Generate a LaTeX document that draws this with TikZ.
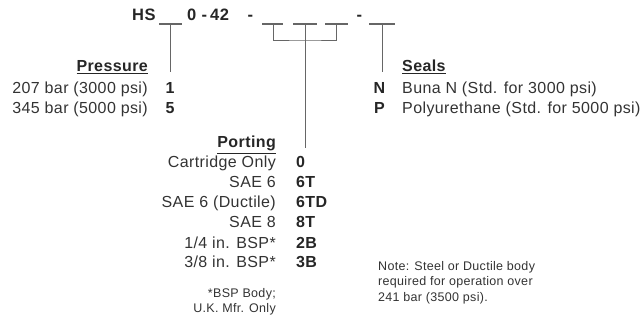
\documentclass[tikz,border=0pt]{standalone}
\usepackage{fontspec}
\setmainfont{Liberation Sans}[LetterSpace=2.5]
\usetikzlibrary{positioning}

\tikzset{
  blank/.style={draw=black!60, line width=1.3pt},
  leader/.style={draw=black!60, line width=1pt},
  title/.style={font=\fontsize{16.5}{19}\selectfont\bfseries, text=black!85, inner sep=0pt, anchor=base west},
  head/.style={font=\fontsize{16}{19}\selectfont\bfseries, text=black!85, inner sep=0pt},
  item/.style={font=\fontsize{16}{19}\selectfont, text=black!80, inner sep=0pt},
  code/.style={font=\fontsize{16}{19}\selectfont\bfseries, text=black!85, inner sep=0pt},
  remark/.style={font=\fontsize{12.5}{15.5}\selectfont, text=black!80, inner sep=0pt},
}

\begin{document}
\begin{tikzpicture}[x=1pt, y=-1pt]
\useasboundingbox (0,0) rectangle (642,320);

% ── Model code ───────────────────────────────────────────────────
\node[title] (tHS) at (132,21) {HS};
\node[title] (tZero) at (187,21) {0};
\node[title] (tDashA) at (201.5,21) {-};
\node[title] (tFortyTwo) at (210,21) {42};
\node[title] (tDashB) at (247.5,21) {-};
\node[title] (tDashC) at (356.5,21) {-};

% blanks
\coordinate (bHSl) at (159,24);  \coordinate (bHSr) at (182,24);
\coordinate (bAl) at (262,24);   \coordinate (bAr) at (283,24);
\coordinate (bBl) at (293,24);   \coordinate (bBr) at (317,24);
\coordinate (bCl) at (325,24);   \coordinate (bCr) at (348,24);
\coordinate (bSl) at (369,24);   \coordinate (bSr) at (395,24);
\foreach \b in {bHS, bA, bB, bC, bS}
  \draw[blank] (\b l) -- (\b r);

\coordinate (bHSmid) at (170.5,24);
\coordinate (bAmid) at (273.5,24);
\coordinate (bBmid) at (305.5,24);
\coordinate (bCmid) at (336.5,24);
\coordinate (bSmid) at (382.5,24);
\coordinate (joint) at (305.5,41);

% ── Pressure ─────────────────────────────────────────────────────
\node[head, anchor=base east] (hPress) at (148,72) {\underline{Pressure}};
\node[item, anchor=base east] (pr1) at (148,94) {207 bar (3000 psi)};
\node[item, anchor=base east] (pr5) at (148,114) {345 bar (5000 psi)};
\node[code, anchor=base] (pc1) at (170,94) {1};
\node[code, anchor=base] (pc5) at (170,114) {5};
\draw[leader] (bHSmid) -- (bHSmid |- hPress.base);

% ── Seals ────────────────────────────────────────────────────────
\node[head, anchor=base west] (hSeals) at (402,72) {\underline{Seals}};
\node[code, anchor=base] (scN) at (379.5,94) {N};
\node[code, anchor=base] (scP) at (379.5,114) {P};
\node[item, anchor=base west] (seN) at (402,94) {Buna N (Std. for 3000 psi)};
\node[item, anchor=base west] (seP) at (402,114) {Polyurethane (Std. for 5000 psi)};
\draw[leader] (bSmid) -- (bSmid |- hSeals.base);

% ── Porting ──────────────────────────────────────────────────────
\node[head, anchor=base east] (hPort) at (276,148) {\underline{Porting}};
\foreach \n/\y/\txt/\cd in {0/168/{Cartridge Only}/0, 1/188/{SAE 6}/6T,
    2/208/{SAE 6 (Ductile)}/6TD, 3/228/{SAE 8}/8T,
    4/248/{1/4 in. BSP*}/2B, 5/268/{3/8 in. BSP*}/3B} {
  \node[item, anchor=base east] (po\n) at (276,\y) {\txt};
  \node[code, anchor=base west] (pk\n) at (296,\y) {\cd};
}
\draw[leader] (bAmid) |- (joint) -| (bCmid);
\draw[leader] (bBmid) -- (bBmid |- hPort.base);

% footnote and note
\node[remark, align=right, anchor=north east] (foot) at (276,288)
  {*BSP Body;\\U.K. Mfr. Only};
\node[remark, align=left, anchor=north west] (note) at (378,261)
  {Note: Steel or Ductile body\\required for operation over\\241 bar (3500 psi).};

\end{tikzpicture}
\end{document}
